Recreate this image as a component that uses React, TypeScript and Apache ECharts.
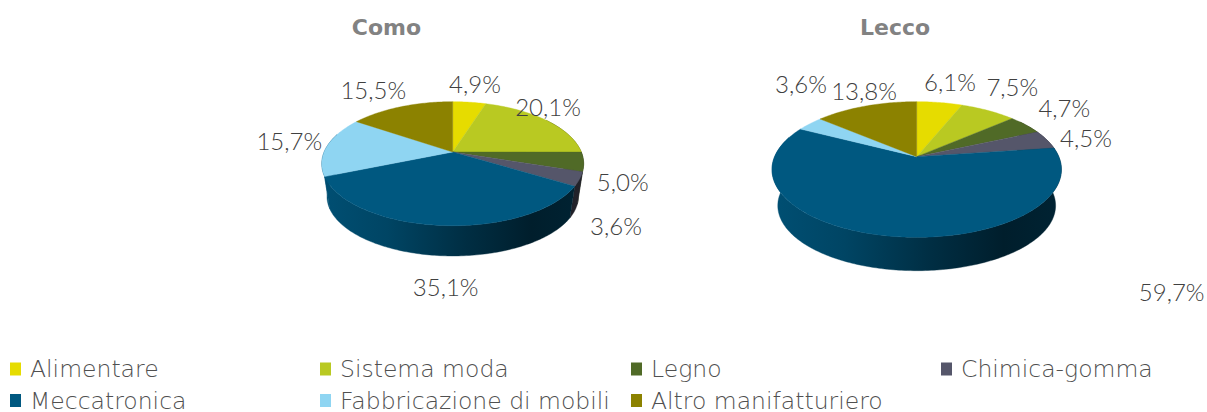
import React, { useEffect, useRef } from "react";
import * as echarts from "echarts";

const categories = ["Alimentare", "Sistema moda", "Legno", "Chimica-gomma", "Meccatronica", "Fabbricazione di mobili", "Altro manifatturiero"];
const comoValues = [4.9, 20.1, 5.0, 3.6, 35.1, 15.7, 15.5];
const leccoValues = [6.1, 7.5, 4.7, 4.5, 59.7, 3.6, 13.8];
const chartTitles = ["Como", "Lecco"];
const colors = ["#E6DC00", "#B9C922", "#506A27", "#55566A", "#005880", "#8FD5F2", "#8C8200"];

const K = -0.1887;
const pies = [
  { cx: 452.7, cy: 152, a: 128.6, b: 59.8, dy: 33.2, titleX: 386.5 },
  { cx: 916.7, cy: 156.7, a: 142.1, b: 65.4, dy: 36.6, titleX: 895 },
];
const labelPos = [
  [[475, 83], [548, 106], [622.7, 181.7], [616, 225], [445.7, 286.7], [289.3, 140], [373.3, 89.3]],
  [[950, 81], [1012.3, 86.7], [1064.3, 107.3], [1086, 137.7], [1171.7, 291.7], [801, 83.3], [864, 90]],
];
const legendX = [10, 320, 631, 941];
const legendY = [368.5, 400.5];
const legendTextLift = [3, 6];
const BOTTOM_SCALE = 0.96;

const valuesByChart = [comoValues, leccoValues];
const startOf = (vals: number[], i: number) => vals.slice(0, i).reduce((s, v) => s + v, 0);
const totalOf = (vals: number[]) => vals.reduce((s, v) => s + v, 0);

function project(p: any, theta: number, bottom: boolean) {
  const s = Math.sin(theta);
  const c = -Math.cos(theta);
  const d = 1 + K * c;
  const scale = bottom ? BOTTOM_SCALE : 1;
  return [p.cx + (p.a * scale * s) / d, p.cy + (bottom ? p.dy : 0) + (p.b * scale * c) / d];
}

function shade(hex: string, f: number) {
  const n = parseInt(hex.slice(1), 16);
  const ch = (v: number) => Math.round(v * f);
  return `rgb(${ch((n >> 16) & 255)},${ch((n >> 8) & 255)},${ch(n & 255)})`;
}

function renderSlice(catIndex: number) {
  return (_params: any, api: any) => {
    const chart = api.value(0);
    const value = api.value(1);
    const start = api.value(2);
    const total = api.value(3);
    const p = pies[chart];
    const t0 = (start / total) * Math.PI * 2;
    const t1 = ((start + value) / total) * Math.PI * 2;
    const n = Math.max(2, Math.ceil(((t1 - t0) * 180) / Math.PI));
    const color = colors[catIndex];
    const top: number[][] = [[p.cx, p.cy]];
    for (let i = 0; i <= n; i++) top.push(project(p, t0 + ((t1 - t0) * i) / n, false));

    const children: any[] = [];
    const lo = Math.max(t0, Math.PI * 0.3);
    const hi = Math.min(t1, Math.PI * 1.6);
    if (hi > lo) {
      const m = Math.max(2, Math.ceil(((hi - lo) * 180) / Math.PI));
      const up: number[][] = [];
      const dn: number[][] = [];
      for (let i = 0; i <= m; i++) {
        const t = lo + ((hi - lo) * i) / m;
        up.push(project(p, t, false));
        dn.push(project(p, t, true));
      }
      // Past the left-hand turn of the rim the wall keeps the colour of the slice before it.
      const wallColor = t0 > Math.PI * 1.25 ? colors[catIndex - 1] : color;
      const fill = new echarts.graphic.LinearGradient(
        p.cx - p.a * 1.02, 0, p.cx + p.a * 1.02, 0,
        [
          { offset: 0, color: shade(wallColor, 0.9) },
          { offset: 0.25, color: shade(wallColor, 0.78) },
          { offset: 0.55, color: shade(wallColor, 0.52) },
          { offset: 0.8, color: shade(wallColor, 0.34) },
          { offset: 1, color: shade(wallColor, 0.4) },
        ],
        true
      );
      children.push({
        type: "polygon",
        z2: 1,
        shape: { points: up.concat(dn.reverse()) },
        style: { fill, stroke: fill, lineWidth: 0.4 },
      });
    }
    children.push({
      type: "polygon",
      z2: 2,
      shape: { points: top },
      style: { fill: color, stroke: color, lineWidth: 0.4 },
    });
    const [lx, ly] = labelPos[chart][catIndex];
    children.push({
      type: "text",
      z2: 3,
      style: {
        text: value.toFixed(1).replace(".", ",") + "%",
        x: lx,
        y: ly,
        fill: "#404040",
        font: `300 24px Lato`,
        textAlign: "center",
        textVerticalAlign: "middle",
      },
    });
    return { type: "group", children };
  };
}

const option: any = {
  animation: false,
  backgroundColor: "#ffffff",
  title: chartTitles.map((text, i) => ({
    text,
    left: pies[i].titleX,
    top: 16,
    textAlign: "center",
    padding: 0,
    textStyle: { fontFamily: "DejaVu Sans", fontSize: 22, fontWeight: "bold", color: "#828282" },
  })),
  legend: categories.map((name, i) => {
    const row = i < 4 ? 0 : 1;
    const lift = legendTextLift[row];
    return {
      data: [name],
      left: legendX[i % 4],
      top: legendY[row] - (20 + lift) / 2,
      padding: 0,
      icon: "rect",
      itemWidth: 11,
      itemHeight: 13,
      itemGap: 0,
      selectedMode: false,
      textStyle: { fontFamily: "DejaVu Sans", fontSize: 23.5, fontWeight: 200, color: "#505050", padding: [0, 0, lift, 4], lineHeight: 20 },
    };
  }),
  series: categories.map((name, i) => ({
    type: "custom",
    name,
    coordinateSystem: "none",
    itemStyle: { color: colors[i] },
    silent: true,
    data: valuesByChart.map((vals, c) => [c, vals[i], startOf(vals, i), totalOf(vals)]),
    renderItem: renderSlice(i),
  })),
};

export default function App() {
  const ref = useRef<HTMLDivElement>(null);
  useEffect(() => {
    const chart = echarts.init(ref.current!, undefined, { renderer: "svg" });
    chart.setOption(option);
    return () => chart.dispose();
  }, []);
  return <div ref={ref} style={{ position: "fixed", left: 0, top: 0, width: 1207, height: 412 }} />;
}
